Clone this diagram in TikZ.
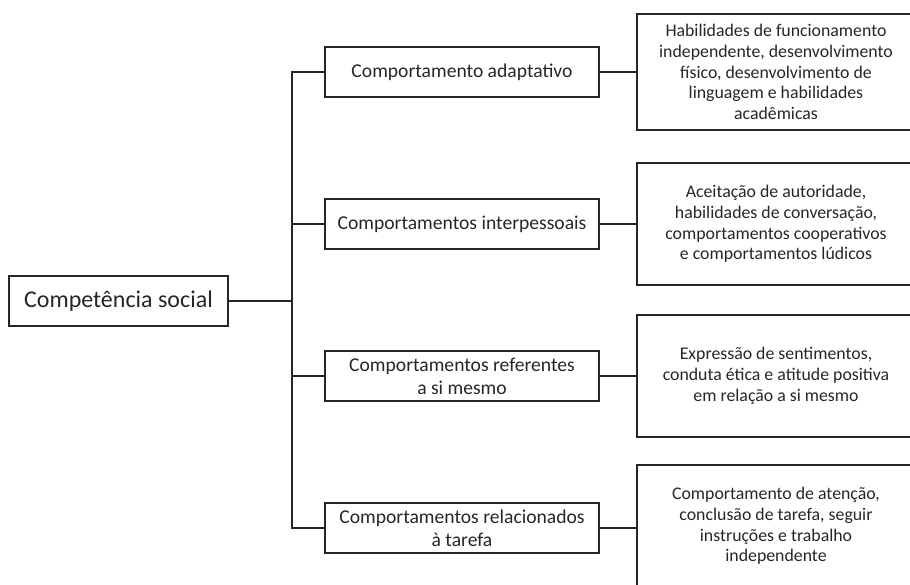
\documentclass[tikz,border=0pt]{standalone}
\usepackage{fontspec}
\setmainfont{Carlito}
\begin{document}
\begin{tikzpicture}[x=1pt, y=-1pt, line width=1.5pt, color=black!85]
      \tikzset{box/.style={draw, align=center, inner sep=2pt},
        mid/.style={box, minimum width=274pt, minimum height=50pt, font=\fontsize{19.6}{23}\selectfont},
        leaf/.style={box, minimum width=278pt, minimum height=122pt, font=\fontsize{17.8}{20.8}\selectfont}}
      \useasboundingbox (0,0) rectangle (910,584);
      \clip (0,0) rectangle (910,584);
      % root
      \node[box, minimum width=219pt, minimum height=50pt, font=\fontsize{24}{26}\selectfont] (root) at (118.5,301) {Competência social};
      \coordinate (trunk) at (292,301);
      % middle column
      \node[mid] (m1) at (462,72) {Comportamento adaptativo};
      \node[mid] (m2) at (462,224) {Comportamentos interpessoais};
      \node[mid] (m3) at (462,376) {Comportamentos referentes\\a si mesmo};
      \node[mid] (m4) at (462,528) {Comportamentos relacionados\\à tarefa};
      % right column
      \node[leaf, minimum height=116pt] (r1) at (776,72) {Habilidades de funcionamento\\independente, desenvolvimento\\físico, desenvolvimento de\\linguagem e habilidades\\acadêmicas};
      \node[leaf] (r2) at (776,224) {Aceitação de autoridade,\\habilidades de conversação,\\comportamentos cooperativos\\e comportamentos lúdicos};
      \node[leaf] (r3) at (776,376) {Expressão de sentimentos,\\conduta ética e atitude positiva\\em relação a si mesmo};
      \node[leaf] (r4) at (776,526) {Comportamento de atenção,\\conclusão de tarefa, seguir\\instruções e trabalho\\independente};
      % connectors
      \draw (root) -- (trunk);
      \draw (m1.west) -| (trunk) |- (m4.west);
      \draw (m2.west -| trunk) -- (m2.west);
      \draw (m3.west -| trunk) -- (m3.west);
      \foreach \i in {1,2,3}
        \draw (m\i) -- (r\i);
      \draw (m4.east) -- (m4.east -| r4.west);
\end{tikzpicture}
\end{document}
